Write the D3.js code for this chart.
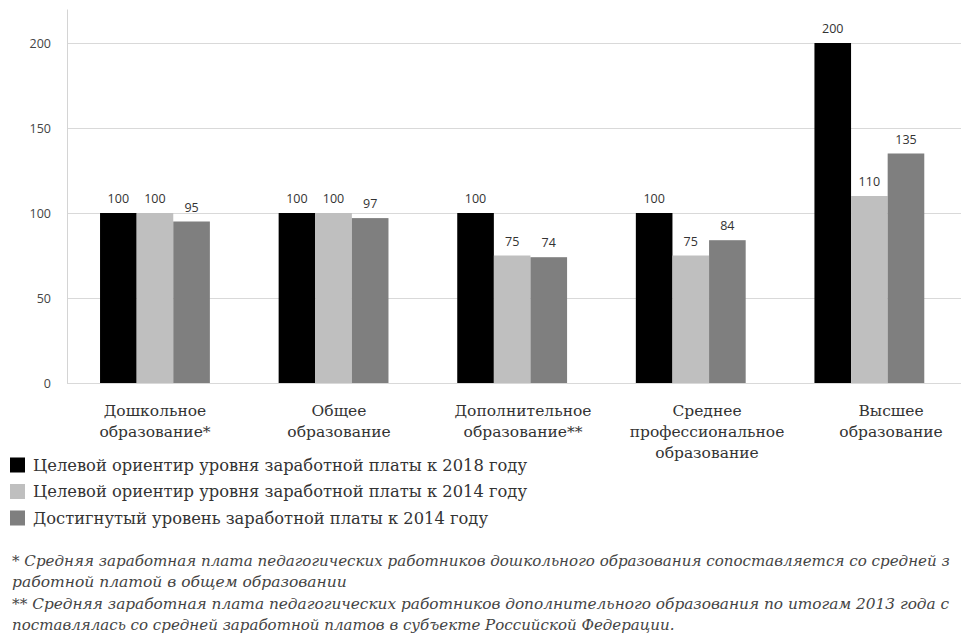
<!DOCTYPE html>
<html>
<head>
<meta charset="utf-8">
<script src="https://cdn.jsdelivr.net/npm/d3@7"></script>
<style>
  html, body { margin: 0; padding: 0; background: #fff; overflow: hidden; }
  svg { display: block; }
</style>
</head>
<body>
<script>
// ---- data ----
const categories = [
  ["Дошкольное", "образование*"],
  ["Общее", "образование"],
  ["Дополнительное", "образование**"],
  ["Среднее", "профессиональное", "образование"],
  ["Высшее", "образование"]
];
const categoryKeys = ["preschool", "general", "additional", "vocational", "higher"];
const seriesNames = [
  "Целевой ориентир уровня заработной платы к 2018 году",
  "Целевой ориентир уровня заработной платы к 2014 году",
  "Достигнутый уровень заработной платы к 2014 году"
];
const target2018 = [100, 100, 100, 100, 200];
const target2014 = [100, 100, 75, 75, 110];
const achieved2014 = [95, 97, 74, 84, 135];
const yTicks = [0, 50, 100, 150, 200];
const footnotes = [
  "* Средняя заработная плата педагогических работников дошкольного образования сопоставляется со средней з",
  "работной платой в общем образовании",
  "** Средняя заработная плата педагогических работников дополнительного образования по итогам 2013 года с",
  "поставлялась со средней заработной платов в субъекте Российской Федерации."
];

const colors = ["#000000", "#bfbfbf", "#7f7f7f"];
const seriesValues = [target2018, target2014, achieved2014];

const W = 961, H = 641;
const svg = d3.select("body").append("svg").attr("width", W).attr("height", H);

const x0 = d3.scaleBand().domain(categoryKeys).range([67, 960]).padding(0);
const xLabel = d3.scaleBand().domain(categoryKeys).range([63, 983]).padding(0);
const x1 = d3.scaleBand().domain(d3.range(3))
  .range([x0.bandwidth() * 0.185, x0.bandwidth() * 0.80]).padding(0);
const y = d3.scaleLinear().domain([0, 220]).range([383, 9]);

// gridlines
svg.append("g").selectAll("line").data(yTicks).join("line")
  .attr("x1", 67).attr("x2", W)
  .attr("y1", d => Math.round(y(d)) + 0.5).attr("y2", d => Math.round(y(d)) + 0.5)
  .attr("stroke", "#d9d9d9").attr("stroke-width", 1);

// y axis
const yAxis = svg.append("g").attr("transform", "translate(67,0)")
  .call(d3.axisLeft(y).tickValues(yTicks).tickSize(0).tickPadding(16));
yAxis.select(".domain").attr("stroke", "#d4d4d4");
yAxis.selectAll("text").attr("font-family", "'Open Sans', sans-serif")
  .attr("font-size", 12.5).attr("fill", "#444");

// bars
const groups = svg.append("g").selectAll("g").data(categoryKeys).join("g")
  .attr("transform", d => `translate(${x0(d)},0)`);
groups.selectAll("rect").data((d, i) => seriesValues.map((s, j) => ({ j, v: s[i] })))
  .join("rect")
  .attr("x", d => x1(d.j)).attr("width", x1.bandwidth())
  .attr("y", d => y(d.v)).attr("height", d => y(0) - y(d.v))
  .attr("fill", d => colors[d.j]);
groups.selectAll("text").data((d, i) => seriesValues.map((s, j) => ({ j, v: s[i] })))
  .join("text")
  .attr("x", d => x1(d.j) + x1.bandwidth() / 2)
  .attr("y", d => y(d.v) - 10)
  .attr("text-anchor", "middle")
  .attr("font-family", "'Open Sans', sans-serif").attr("font-size", 12.5)
  .attr("fill", "#333")
  .text(d => d.v);

// category labels
const xAxis = svg.append("g").attr("transform", "translate(0,383)")
  .call(d3.axisBottom(xLabel).tickSize(0).tickFormat(""));
xAxis.select(".domain").remove();
xAxis.selectAll(".tick").each(function (d, i) {
  const t = d3.select(this).append("text")
    .attr("text-anchor", "middle")
    .attr("font-family", "'DejaVu Serif', serif").attr("font-size", 15.5)
    .attr("fill", "#333");
  categories[i].forEach((line, k) => {
    t.append("tspan").attr("x", 0).attr("y", 33 + k * 21).text(line);
  });
});

// legend
const legendLengths = [494, 494, 455];
const legend = svg.append("g").selectAll("g").data(seriesNames).join("g")
  .attr("transform", (d, i) => `translate(10,${465 + i * 26.5})`);
legend.append("rect").attr("x", 0).attr("y", -7.5).attr("width", 15).attr("height", 15)
  .attr("fill", (d, i) => colors[i]);
legend.append("text").attr("x", 23).attr("y", 5.5)
  .attr("font-family", "'DejaVu Serif', serif").attr("font-size", 16)
  .attr("fill", "#333")
  .attr("textLength", (d, i) => legendLengths[i]).attr("lengthAdjust", "spacingAndGlyphs")
  .text(d => d);

// footnotes (condensed horizontally to the reference widths)
const fnY = [566, 587, 609, 630];
const fnLen = [938, 335, 938, 663];
svg.append("g").selectAll("text").data(footnotes).join("text")
  .attr("x", 0).attr("y", 0)
  .attr("font-family", "'DejaVu Serif', serif").attr("font-style", "italic")
  .attr("font-size", 15.5).attr("fill", "#444")
  .text(d => d)
  .each(function (d, i) {
    const natural = this.getComputedTextLength();
    const k = fnLen[i] / natural;
    d3.select(this).attr("transform", `translate(12,${fnY[i]}) scale(${k},1)`);
  });
</script>
</body>
</html>
